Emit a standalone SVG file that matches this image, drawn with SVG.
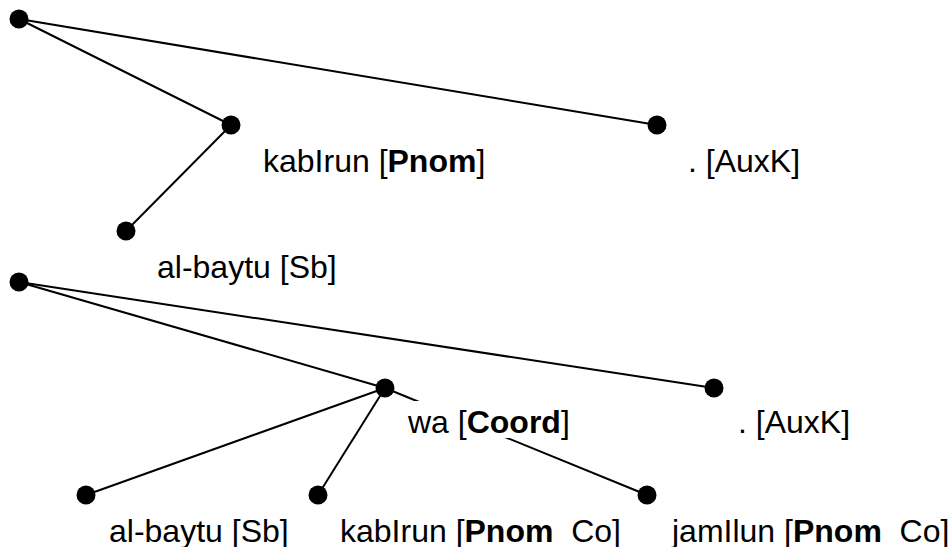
<svg xmlns="http://www.w3.org/2000/svg" width="949" height="547" viewBox="0 0 949 547">
<style>
.edge{stroke:#000;stroke-width:2;fill:none}
.dot{fill:#000}
.lbl{font-family:"Liberation Sans",Arial,sans-serif;font-size:32px;fill:#000;white-space:pre}
.b{font-weight:bold}
.bg{fill:#fff}
</style>
<rect width="949" height="547" fill="#fff"/>
<g id="connectors">
<line class="edge" x1="19" y1="19" x2="231" y2="125"/>
<line class="edge" x1="19" y1="19" x2="657" y2="125"/>
<line class="edge" x1="231" y1="125" x2="126" y2="231"/>
<line class="edge" x1="19" y1="282" x2="385" y2="388"/>
<line class="edge" x1="19" y1="282" x2="714" y2="388"/>
<line class="edge" x1="385" y1="388" x2="86" y2="495"/>
<line class="edge" x1="385" y1="388" x2="318" y2="495"/>
<line class="edge" x1="385" y1="388" x2="647" y2="495"/>
</g>
<g id="t1-root"><circle class="dot" cx="19" cy="19" r="9.5"/></g>
<g id="t1-kabirun"><circle class="dot" cx="231" cy="125" r="9.5"/><text class="lbl" x="263" y="172">kabIrun [<tspan class="b">Pnom</tspan>]</text></g>
<g id="t1-albaytu"><circle class="dot" cx="126" cy="231" r="9.5"/><text class="lbl" x="157" y="278">al-baytu [Sb]</text></g>
<g id="t1-auxk"><circle class="dot" cx="657" cy="125" r="9.5"/><text class="lbl" x="688" y="172">. [AuxK]</text></g>
<g id="t2-root"><circle class="dot" cx="19" cy="282" r="9.5"/></g>
<g id="t2-wa"><circle class="dot" cx="385" cy="388" r="9.5"/><rect class="bg" x="404" y="401" width="165" height="37"/><text class="lbl" x="408" y="433">wa [<tspan class="b">Coord</tspan>]</text></g>
<g id="t2-auxk"><circle class="dot" cx="714" cy="388" r="9.5"/><text class="lbl" x="738" y="433">. [AuxK]</text></g>
<g id="t2-albaytu"><circle class="dot" cx="86" cy="495" r="9.5"/><text class="lbl" x="109" y="542">al-baytu [Sb]</text></g>
<g id="t2-kabirun"><circle class="dot" cx="318" cy="495" r="9.5"/><text class="lbl" x="340" y="542">kabIrun [<tspan class="b">Pnom</tspan>  Co]</text></g>
<g id="t2-jamilun"><circle class="dot" cx="647" cy="495" r="9.5"/><text class="lbl" x="672" y="542">jamIlun [<tspan class="b">Pnom</tspan>  Co]</text></g>
</svg>
